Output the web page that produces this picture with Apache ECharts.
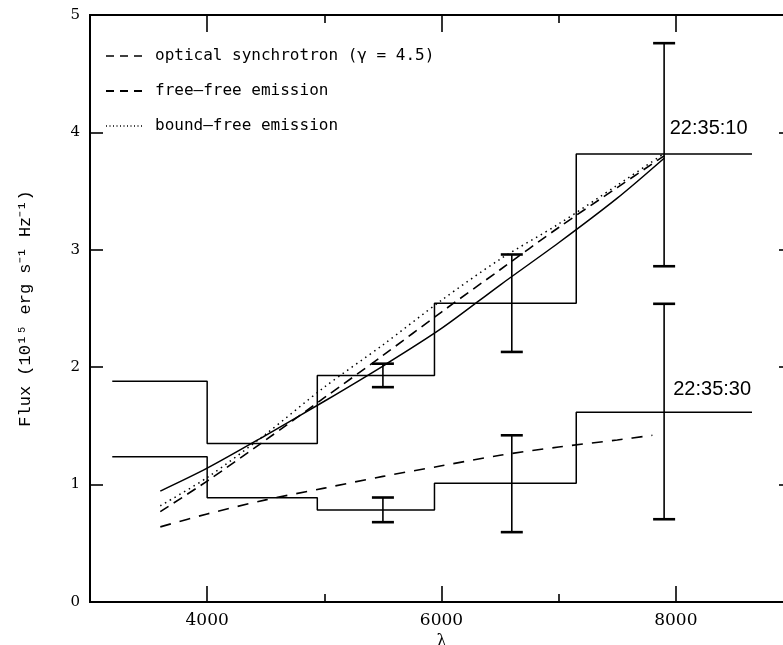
<!DOCTYPE html>
<html>
<head>
<meta charset="utf-8">
<title>Flux spectra 22:35:10 / 22:35:30</title>
<script src="https://cdn.jsdelivr.net/npm/echarts@6/dist/echarts.min.js"></script>
<style>
  html, body { margin: 0; padding: 0; background: #fff; }
  #chart { width: 783px; height: 645px; }
</style>
</head>
<body>
<div id="chart"></div>
<script>
// histogram bins (wavelength edges, one flux value per bin)
const binEdges = [3190, 4000, 4940, 5940, 7150, 8650];
const flux1010 = [1.88, 1.35, 1.93, 2.545, 3.816];
const flux1030 = [1.238, 0.889, 0.784, 1.011, 1.616];

// error bars
const errLam = [5500, 6600, 7900];
const err1010Lo = [1.83, 2.13, 2.86];
const err1010Hi = [2.03, 2.96, 4.76];
const err1030Lo = [0.68, 0.595, 0.705];
const err1030Hi = [0.89, 1.42, 2.54];

// model curves
const lamModel = [3600, 4000, 4500, 5000, 5500, 6000, 6500, 7000, 7500, 7900];
const synchrotron = [0.945, 1.14, 1.42, 1.71, 2.01, 2.33, 2.70, 3.06, 3.44, 3.78];
const freeFree = [0.77, 1.03, 1.38, 1.74, 2.10, 2.47, 2.83, 3.19, 3.53, 3.80];
const boundFree = [0.82, 1.06, 1.43, 1.83, 2.19, 2.57, 2.92, 3.22, 3.55, 3.82];
const lamShallow = [3600, 4000, 4500, 5000, 5500, 6000, 6500, 7000, 7500, 7800];
const shallowFit = [0.64, 0.75, 0.87, 0.97, 1.07, 1.16, 1.25, 1.32, 1.38, 1.42];

const legendNames = ['optical synchrotron (γ = 4.5)', 'free–free emission', 'bound–free emission'];
const timeTags = ['22:35:10', '22:35:30'];
const tagLam = [8280, 8310];
const tagFlux = [4.03, 1.81];

const majorTicks = [4000, 6000, 8000];
const minorTicks = [5000, 7000];

const pairs = (xs, ys) => xs.map((x, i) => [x, ys[i]]);
const stepData = vals => binEdges.map((e, i) => [e, vals[Math.min(i, vals.length - 1)]]);

function errorBars(lo, hi) {
    return {
        type: 'custom',
        xAxisIndex: 0,
        yAxisIndex: 0,
        z: 4,
        data: errLam.map((x, i) => [x, lo[i], hi[i]]),
        encode: { x: 0, y: [1, 2] },
        renderItem(params, api) {
            const x = api.value(0);
            const a = api.coord([x, api.value(1)]);
            const b = api.coord([x, api.value(2)]);
            const w = 11;
            const cap = p => ({
                type: 'line',
                shape: { x1: p[0] - w, y1: p[1], x2: p[0] + w, y2: p[1] },
                style: { stroke: '#000', lineWidth: 2.6 }
            });
            return {
                type: 'group',
                children: [
                    { type: 'line', shape: { x1: a[0], y1: a[1], x2: b[0], y2: b[1] }, style: { stroke: '#000', lineWidth: 1.6 } },
                    cap(a), cap(b)
                ]
            };
        }
    };
}

function tickAxis(position, values, len, extra) {
    return Object.assign({
        type: 'value', min: 3000, max: 9000, position,
        axisLine: { show: true, onZero: false, lineStyle: { color: '#000', width: 2 } },
        axisTick: { show: true, inside: true, length: len, customValues: values, lineStyle: { color: '#000', width: 1.6 } },
        axisLabel: { show: false },
        splitLine: { show: false }
    }, extra || {});
}

function timeTag(i) {
    return {
        symbol: 'circle',
        symbolSize: 1,
        itemStyle: { color: 'rgba(0,0,0,0)' },
        label: { show: true, position: 'inside', formatter: '{b}', fontFamily: 'Liberation Sans', fontSize: 20, color: '#000' },
        data: [{ name: timeTags[i], coord: [tagLam[i], tagFlux[i]] }]
    };
}

const chart = echarts.init(document.getElementById('chart'));

chart.setOption({
    animation: false,
    backgroundColor: '#fff',
    grid: { left: 90, top: 15, width: 703, height: 587, outerBoundsMode: 'none', containLabel: false },
    legend: {
        orient: 'vertical',
        left: 100,
        top: 43,
        itemWidth: 36,
        itemHeight: 14,
        itemGap: 19,
        itemStyle: { opacity: 0 },
        textStyle: { fontFamily: 'DejaVu Sans Mono', fontSize: 16, color: '#000', padding: [0, 0, 0, 8] },
        data: [
            { name: legendNames[0], lineStyle: { type: [8, 6], width: 1.6, color: '#000' } },
            { name: legendNames[1], lineStyle: { type: [8, 6], width: 2, color: '#000' } },
            { name: legendNames[2], lineStyle: { type: [1, 2.5], width: 1.4, color: '#000' } }
        ]
    },
    xAxis: [
        tickAxis('bottom', majorTicks, 16, {
            name: 'λ', nameLocation: 'middle', nameGap: 19,
            nameTextStyle: { fontFamily: 'DejaVu Serif', fontSize: 16, color: '#000' },
            axisLabel: {
                show: true, customValues: majorTicks, margin: 10,
                formatter: v => String(v),
                fontFamily: 'DejaVu Serif', fontSize: 17, color: '#000'
            }
        }),
        tickAxis('bottom', minorTicks, 8),
        tickAxis('top', majorTicks, 17),
        tickAxis('top', minorTicks, 8)
    ],
    yAxis: [
        {
            type: 'value', min: 0, max: 5, interval: 1, position: 'left',
            name: 'Flux (10¹⁵ erg s⁻¹ Hz⁻¹)', nameLocation: 'middle', nameRotate: 90, nameGap: 56,
            nameTextStyle: { fontFamily: 'Liberation Mono', fontSize: 17, color: '#000' },
            axisLine: { show: true, lineStyle: { color: '#000', width: 2 } },
            axisTick: { show: true, inside: true, length: 13, lineStyle: { color: '#000', width: 1.6 } },
            axisLabel: { margin: 10, fontFamily: 'DejaVu Serif', fontSize: 15, color: '#000' },
            splitLine: { show: false }
        },
        {
            type: 'value', min: 0, max: 5, interval: 1, position: 'right',
            axisLine: { show: true, lineStyle: { color: '#000', width: 2 } },
            axisTick: { show: true, inside: true, length: 14, lineStyle: { color: '#000', width: 1.6 } },
            axisLabel: { show: false },
            splitLine: { show: false }
        }
    ],
    series: [
        {
            name: 'hist 22:35:10', type: 'line', step: 'end', symbol: 'none',
            data: stepData(flux1010),
            lineStyle: { color: '#000', width: 1.5 },
            markPoint: timeTag(0)
        },
        {
            name: 'hist 22:35:30', type: 'line', step: 'end', symbol: 'none',
            data: stepData(flux1030),
            lineStyle: { color: '#000', width: 1.5 },
            markPoint: timeTag(1)
        },
        errorBars(err1010Lo, err1010Hi),
        errorBars(err1030Lo, err1030Hi),
        {
            name: legendNames[0], type: 'line', symbol: 'none', smooth: 0.3,
            data: pairs(lamModel, synchrotron),
            lineStyle: { color: '#000', width: 1.5, type: 'solid' }
        },
        {
            name: legendNames[1], type: 'line', symbol: 'none', smooth: 0.3,
            data: pairs(lamModel, freeFree),
            lineStyle: { color: '#000', width: 1.6, type: [10, 6] }
        },
        {
            name: legendNames[2], type: 'line', symbol: 'none', smooth: 0.3,
            data: pairs(lamModel, boundFree),
            lineStyle: { color: '#000', width: 1.5, type: [1.5, 4] }
        },
        {
            name: 'fit 22:35:30', type: 'line', symbol: 'none', smooth: 0.3,
            data: pairs(lamShallow, shallowFit),
            lineStyle: { color: '#000', width: 1.6, type: [11, 9] }
        }
    ]
});
</script>
</body>
</html>
